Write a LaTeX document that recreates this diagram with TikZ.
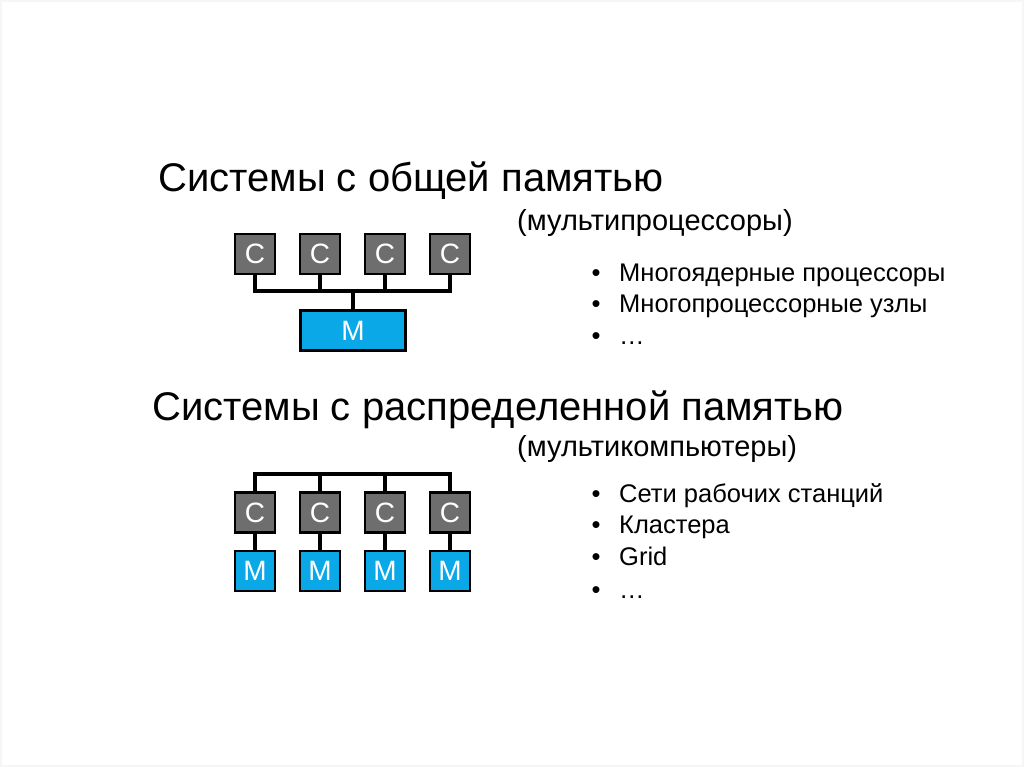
\documentclass[tikz,border=0pt]{standalone}
\usepackage{fontspec}
\setmainfont{Liberation Sans}
\definecolor{cgray}{HTML}{6E6E6E}
\definecolor{mblue}{HTML}{0AA8E6}
\definecolor{frame}{HTML}{F6F6F6}
\begin{document}
\begin{tikzpicture}[x=1pt,y=-1pt,
  cbox/.style={draw=black,line width=2.8pt,fill=cgray,minimum width=40pt,minimum height=40pt,inner sep=0pt,text=white,font=\fontsize{28}{28}\selectfont},
  mbox/.style={draw=black,line width=2.8pt,fill=mblue,minimum width=40pt,minimum height=40pt,inner sep=0pt,text=white,font=\fontsize{28}{28}\selectfont},
  wire/.style={line width=3.4pt,line cap=rect},
  title/.style={anchor=base west,inner sep=0pt,font=\fontsize{40}{40}\selectfont},
  sub/.style={anchor=base west,inner sep=0pt,font=\fontsize{29}{29}\selectfont},
  item/.style={anchor=base west,inner sep=0pt,font=\fontsize{25.5}{25.5}\selectfont},
  dot/.style={anchor=base,inner sep=0pt,font=\fontsize{25.5}{25.5}\selectfont}]
\fill[white] (0,0) rectangle (1024,767);
\draw[frame,line width=1.5pt] (1,1) rectangle (1023,766);
\useasboundingbox (0,0) rectangle (1024,767);

% titles
\node[title] (t1) at (158,192) {Системы с общей памятью};
\node[sub] (s1) at (517,231) {(мультипроцессоры)};
\node[title] (t2) at (152,420) {Системы с распределенной памятью};
\node[sub] (s2) at (517,456) {(мультикомпьютеры)};

% bullets top
\node[dot] (b1) at (596,281) {•};
\node[item] (i1) at (619,281) {Многоядерные процессоры};
\node[dot] (b2) at (596,312) {•};
\node[item] (i2) at (619,312) {Многопроцессорные узлы};
\node[dot] (b3) at (596,344) {•};
\node[item] (i3) at (619,344) {…};

% bullets bottom
\node[dot] (b4) at (596,502) {•};
\node[item] (i4) at (619,502) {Сети рабочих станций};
\node[dot] (b5) at (596,533) {•};
\node[item] (i5) at (619,533) {Кластера};
\node[dot] (b6) at (596,565) {•};
\node[item] (i6) at (619,565) {Grid};
\node[dot] (b7) at (596,598) {•};
\node[item] (i7) at (619,598) {…};

% top diagram
\coordinate (busL) at (255,291);
\coordinate (busR) at (450,291);
\coordinate (busM) at (353,291);
\draw[wire] (busL) -- (busR);
\foreach \i/\x in {1/255,2/320,3/385,4/450}{
  \node[cbox] (c\i) at (\x,254) {C};
  \draw[wire] (c\i.south) -- (\x,291);
}
\node[mbox,minimum width=105pt,minimum height=40pt] (m) at (353,330.5) {M};
\draw[wire] (busM) -- (m.north);

% bottom diagram
\coordinate (bbusL) at (255,474);
\coordinate (bbusR) at (450,474);
\draw[wire] (bbusL) -- (bbusR);
\foreach \i/\x in {1/255,2/320,3/385,4/450}{
  \node[cbox] (dc\i) at (\x,512.5) {C};
  \node[mbox] (dm\i) at (\x,571) {M};
  \draw[wire] (\x,474) -- (dc\i.north);
  \draw[wire] (dc\i.south) -- (dm\i.north);
}
\end{tikzpicture}
\end{document}
